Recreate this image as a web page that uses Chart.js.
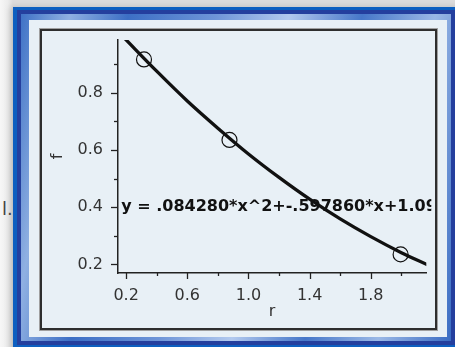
<!DOCTYPE html>
<html>
<head>
<meta charset="utf-8">
<script src="https://cdn.jsdelivr.net/npm/chart.js@4.4.1/dist/chart.umd.min.js"></script>
<style>
  html, body { margin:0; padding:0; }
  body { width:455px; height:347px; overflow:hidden; position:relative;
         background: linear-gradient(90deg, #f7f7f7 0px, #ececec 8px, #dcdcdc 13px); }
  .abs { position:absolute; }
  #fa { left:13px; top:7px; width:460px; height:360px; background:#0d5fc0;
        box-shadow:-3px 0 6px rgba(0,0,0,0.15); }
  #fb { left:17px; top:10px; width:450px; height:335px; background:#243f9e; }
  #fc { left:21px; top:14px; width:430px; height:327px;
        background: linear-gradient(100deg, #3f72c6 0%, #8fb0e2 10%, #3c6fc5 22%, #6e95d8 40%, #b2c9ee 55%, #4677c9 70%, #9ab8e6 85%, #3a6cc3 100%); }
  #panel { left:29px; top:20px; width:418px; height:317px; background:#e8f0f6; }
  #plotbox { left:40px; top:29px; width:393px; height:297px; border:2px solid #2e2e2e;
             box-shadow:0 0 0 1px #a0a0a0; background:#e8f0f6; }
  #side { left:2px; top:198px; font:18px "DejaVu Sans"; color:#444; }
  canvas { display:block; }
</style>
</head>
<body>
<div id="fa" class="abs"></div>
<div id="fb" class="abs"></div>
<div id="fc" class="abs"></div>
<div id="panel" class="abs"></div>
<div id="side" class="abs">l.</div>
<div id="plotbox" class="abs"><canvas id="c" width="393" height="297"></canvas></div>
<script>
// ---- data ----
const obsR = [0.317, 0.876, 1.995];
const obsF = [0.916, 0.635, 0.235];
const fitR = [0.19, 0.4, 0.6, 0.8, 1.0, 1.2, 1.4, 1.6, 1.8, 2.0, 2.17];
const fitF = [0.99, 0.875, 0.771, 0.676, 0.586, 0.504, 0.428, 0.359, 0.297, 0.241, 0.199];
const xMajorTicks = [0.2, 0.6, 1.0, 1.4, 1.8];
const xMinorTicks = [0.4, 0.8, 1.2, 1.6, 2.0];
const yMajorTicks = [0.2, 0.4, 0.6, 0.8];
const yMinorTicks = [0.3, 0.5, 0.7, 0.9];
const xTitle = 'r';
const yTitle = 'f';
const equationText = 'y = .084280*x^2+-.597860*x+1.09';
const equationAnchor = { x: 0.168, y: 0.4 };

const FONT = 'DejaVu Sans';
const INK = '#222';

const tickPlugin = {
  id: 'ticksAndEq',
  afterDraw(chart) {
    const ctx = chart.ctx, xs = chart.scales.x, ys = chart.scales.y, ca = chart.chartArea;
    ctx.save();
    ctx.strokeStyle = INK; ctx.lineWidth = 1.3;
    const xTick = (v, len) => { const p = Math.round(xs.getPixelForValue(v)) + 0.5;
      ctx.beginPath(); ctx.moveTo(p, ca.bottom); ctx.lineTo(p, ca.bottom + len); ctx.stroke(); };
    const yTick = (v, len) => { const p = Math.round(ys.getPixelForValue(v)) + 0.5;
      ctx.beginPath(); ctx.moveTo(ca.left, p); ctx.lineTo(ca.left - len, p); ctx.stroke(); };
    xMajorTicks.forEach(v => xTick(v, 6));
    xMinorTicks.forEach(v => xTick(v, 3));
    yMajorTicks.forEach(v => yTick(v, 7));
    yMinorTicks.forEach(v => yTick(v, 4));
    // equation text
    ctx.beginPath();
    ctx.rect(ca.left, ca.top, ca.right - ca.left + 5, ca.bottom - ca.top);
    ctx.clip();
    ctx.fillStyle = '#111';
    ctx.font = 'bold 16px "' + FONT + '"';
    ctx.textBaseline = 'middle';
    ctx.textAlign = 'left';
    ctx.fillText(equationText, xs.getPixelForValue(equationAnchor.x), ys.getPixelForValue(equationAnchor.y));
    ctx.restore();
  }
};

new Chart(document.getElementById('c'), {
  data: {
    datasets: [
      { type: 'line', data: fitR.map((r, i) => ({ x: r, y: fitF[i] })),
        borderColor: '#111', borderWidth: 3.3, pointRadius: 0, cubicInterpolationMode: 'monotone', fill: false },
      { type: 'scatter', data: obsR.map((r, i) => ({ x: r, y: obsF[i] })),
        pointRadius: 7.5, pointBorderWidth: 1.2, borderColor: '#111', backgroundColor: 'rgba(0,0,0,0)' }
    ]
  },
  options: {
    responsive: false, animation: false, devicePixelRatio: 1,
    layout: { padding: { top: 9, right: 7, left: 0, bottom: 0 } },
    plugins: { legend: { display: false }, tooltip: { enabled: false } },
    scales: {
      x: { type: 'linear', min: 0.147, max: 2.163,
        afterFit(s) { s.height = 55; s.paddingLeft = 0; s.paddingRight = 0; },
        afterBuildTicks(s) { s.ticks = xMajorTicks.map(v => ({ value: v })); },
        grid: { display: true, drawOnChartArea: false, drawTicks: false },
        border: { display: true, color: INK, width: 1.5 },
        ticks: { padding: 13, color: '#333', font: { family: FONT, size: 16 }, maxRotation: 0,
          callback: v => v.toFixed(1) },
        title: { display: true, text: xTitle, color: '#333', font: { family: FONT, size: 16 }, padding: { top: 0, bottom: 7 } }
      },
      y: { type: 'linear', min: 0.17, max: 0.984,
        afterFit(s) { s.width = 76; s.paddingTop = 0; s.paddingBottom = 0; },
        afterBuildTicks(s) { s.ticks = yMajorTicks.map(v => ({ value: v })); },
        grid: { display: true, drawOnChartArea: false, drawTicks: false },
        border: { display: true, color: INK, width: 1.5 },
        ticks: { padding: 15, color: '#333', font: { family: FONT, size: 16 },
          callback: v => v.toFixed(1) },
        title: { display: true, text: yTitle, color: '#333', font: { family: FONT, size: 16 }, padding: { top: 6, bottom: 0 } }
      }
    }
  },
  plugins: [tickPlugin]
});
</script>
</body>
</html>
